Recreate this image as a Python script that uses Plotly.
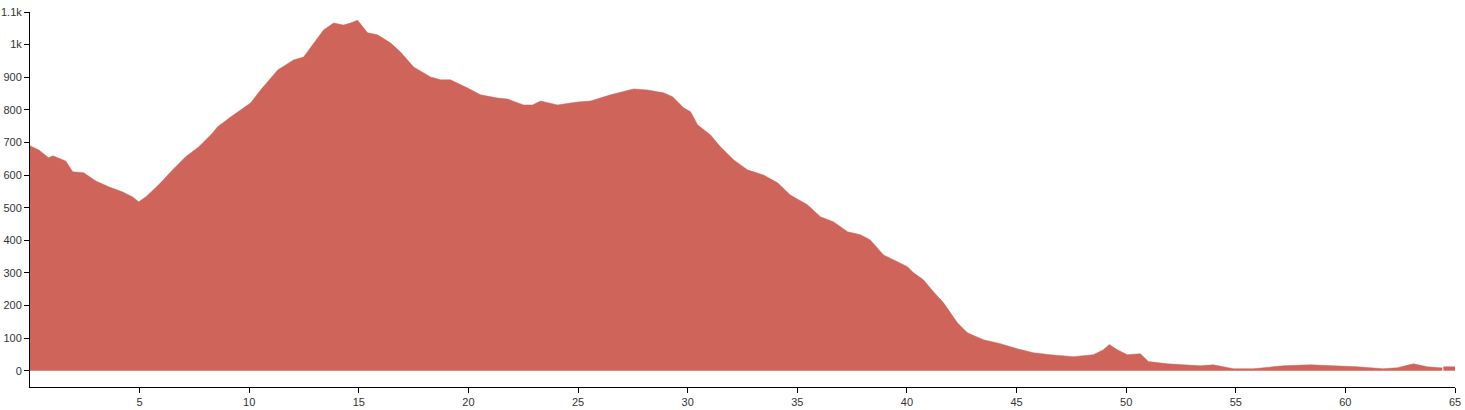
import plotly.graph_objects as go

km = [0.0, 0.4, 0.85, 1.04, 1.63, 1.95, 2.45, 3.0, 3.59, 4.23, 4.68, 4.96, 5.28, 5.87, 6.51, 7.1,
      7.69, 8.33, 8.56, 9.15, 10.06, 10.52, 11.3, 12.02, 12.48, 12.94, 13.39, 13.85, 14.3, 14.62,
      14.94, 15.4, 15.85, 16.45, 16.9, 17.5, 18.27, 18.73, 19.18, 19.96, 20.55, 21.33, 21.79,
      22.51, 22.92, 23.29, 24.06, 24.97, 25.57, 26.48, 27.53, 28.17, 28.9, 29.31, 29.81, 30.13,
      30.45, 31.04, 31.5, 32.09, 32.72, 33.46, 34.1, 34.68, 35.46, 36.05, 36.64, 37.29, 37.88,
      38.33, 38.93, 39.57, 40.02, 40.3, 40.75, 41.21, 41.67, 42.3, 42.76, 43.49, 44.26, 45.04,
      45.77, 46.54, 47.32, 47.59, 48.5, 48.96, 49.23, 49.6, 50.05, 50.65, 51.01, 51.88, 52.61,
      53.39, 53.98, 54.89, 55.8, 57.17, 58.4, 59.63, 60.54, 61.73, 62.37, 63.1, 63.73, 64.32,
      64.42, 64.47, 64.9, 65.0]
elevation = [690, 677, 653, 659, 643, 610, 607, 582, 564, 548, 533, 518, 533, 570, 616, 656,
             686, 729, 748, 778, 821, 861, 922, 953, 962, 1005, 1045, 1066, 1060, 1066,
             1075, 1036, 1030, 1005, 977, 931, 901, 892, 892, 867, 846, 836, 833,
             815, 815, 827, 815, 824, 827, 846, 864, 861, 852, 840, 806, 794,
             754, 723, 686, 647, 616, 600, 576, 539, 509, 472, 457, 426, 417,
             401, 355, 334, 319, 300, 279, 242, 208, 147, 116, 95, 83, 67,
             55, 49, 46, 43, 49, 64, 80, 64, 49, 52, 28, 21, 18,
             15, 18, 6, 6, 15, 18, 15, 12, 6, 9, 21, 12, 9,
             9, 12, 12, 12]
gap_after_km = 64.42  # data gap in the track

x_ticks = [5, 10, 15, 20, 25, 30, 35, 40, 45, 50, 55, 60, 65]
y_ticks = [0, 100, 200, 300, 400, 500, 600, 700, 800, 900, 1000, 1100]

fill_color = "rgb(206,100,90)"

split = km.index(gap_after_km) + 1
segments = [(km[:split], elevation[:split]), (km[split:], elevation[split:])]

fig = go.Figure()
for xs, ys in segments:
    fig.add_trace(go.Scatter(
        x=xs, y=ys, mode="lines", fill="tozeroy",
        line=dict(color=fill_color, width=0.5), fillcolor=fill_color,
        hoverinfo="x+y", showlegend=False,
    ))

axis_font = dict(family="Arial, Liberation Sans, sans-serif", size=11, color="#333333")
fig.update_layout(
    width=1465, height=410,
    margin=dict(l=30, r=10, t=12, b=23),
    plot_bgcolor="white", paper_bgcolor="white",
    xaxis=dict(range=[0, 65], tickvals=x_ticks, showgrid=False, zeroline=False,
               showline=True, linecolor="black", linewidth=1, ticks="outside",
               ticklen=5, tickcolor="black", tickfont=axis_font, automargin=False),
    yaxis=dict(range=[-50, 1100], tickvals=y_ticks, tickformat="~s", showgrid=False,
               zeroline=False, showline=True, linecolor="black", linewidth=1,
               ticks="outside", ticklen=5, tickcolor="black", tickfont=axis_font,
               automargin=False),
)
fig.write_html("out.html", config={"displayModeBar": False},
               post_script="document.body.style.margin='0';")
